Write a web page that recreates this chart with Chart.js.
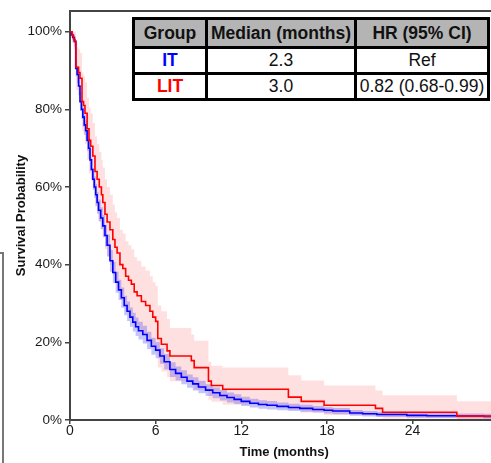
<!DOCTYPE html>
<html>
<head>
<meta charset="utf-8">
<script src="https://cdn.jsdelivr.net/npm/chart.js@4/dist/chart.umd.min.js"></script>
<style>
  html, body { margin: 0; padding: 0; background: #fff; overflow: hidden; width: 491px; height: 463px; }
  #wrap { position: relative; width: 491px; height: 463px; overflow: hidden; }
  canvas { position: absolute; left: 0; top: 0; }
  #tbl { position: absolute; left: 132px; top: 17px; background: #000; padding: 3px;
         display: grid; grid-template-columns: 70px 146px 130px; grid-template-rows: 26px 23px 23px; gap: 3px;
         font-family: "Liberation Sans", Arial, sans-serif; font-size: 17.5px; color: #111; }
  #tbl div { background: #fff; display: flex; align-items: center; justify-content: center; white-space: nowrap; }
  #tbl div.h { background: #b4b4b4; font-weight: bold; }
  #tbl div.g { font-weight: bold; }
  #bracket { position: absolute; left: 2px; top: 252px; width: 1.5px; height: 211px; background: #777; }
  #bracketTop { position: absolute; left: 0px; top: 252px; width: 3px; height: 1.5px; background: #777; }
</style>
</head>
<body>
<div id="wrap">
  <canvas id="c" width="505" height="463"></canvas>
  <div id="tbl"></div>
  <div id="bracket"></div><div id="bracketTop"></div>
</div>
<script>
// ---------- DATA ----------
const xTicks = [0, 6, 12, 18, 24, 30];
const yTicks = [0, 20, 40, 60, 80, 100];

// IT (blue) Kaplan-Meier estimate, months / survival %
const itTime  = [0,0.1,0.2,0.3,0.4,0.5,0.6,0.7,0.8,0.9,1.0,1.1,1.2,1.3,1.4,1.5,1.6,1.7,1.8,1.9,2.0,2.15,2.3,2.45,2.6,2.8,3.0,3.2,3.4,3.6,3.8,4.0,4.2,4.4,4.6,4.8,5.1,5.4,5.7,6.0,6.3,6.6,7.0,7.4,7.8,8.2,8.6,9.0,9.5,10,10.5,11,11.5,12,12.6,13.2,13.8,14.5,15.3,16.1,17,17.8,18.4,19.6,20.5,21.5,23.6,25,27.1,29,30];
const itSurv  = [100,99.2,98.5,97.5,90.5,89,86,82,80,78,76,74.5,72,70,67,64.5,62,60,58,56,54,52,50,47.5,45,41,38,35.5,33.5,31.5,29.5,28,26.5,25.2,24,23,22,20.5,19,18,16.5,15,13,12,11,10,9.3,8.5,7.7,7,6.3,5.8,5.3,4.8,4.3,4.0,3.8,3.5,3.2,3.0,2.7,2.5,2.3,1.8,1.6,1.4,1.2,1.1,1.0,0.9,0.9];
const itUpper = [100,100,99.5,98.8,92.5,91.2,88.3,84.4,82.5,80.5,78.6,77.1,74.7,72.7,69.8,67.3,64.8,62.8,60.8,58.8,56.8,54.8,52.8,50.3,47.8,43.8,40.7,38.2,36.1,34.1,32,30.5,29,27.6,26.4,25.3,24.3,22.7,21.2,20.1,18.5,17,14.9,13.8,12.8,11.7,11,10.1,9.2,8.4,7.7,7.1,6.6,6,5.5,5.1,4.9,4.5,4.2,3.9,3.6,3.3,3.1,2.6,2.3,2.1,1.9,1.8,1.7,1.6,1.6];
const itLower = [100,98.4,97.5,96.2,88.5,86.8,83.7,79.6,77.5,75.5,73.4,71.9,69.3,67.3,64.2,61.7,59.2,57.2,55.2,53.2,51.2,49.2,47.2,44.7,42.2,38.2,35.3,32.8,30.9,28.9,27,25.5,24,22.8,21.6,20.7,19.7,18.3,16.8,15.9,14.5,13,11.1,10.2,9.2,8.3,7.6,6.9,6.2,5.6,5.0,4.5,4.1,3.6,3.2,2.9,2.7,2.5,2.3,2.1,1.9,1.7,1.5,1.1,0.9,0.8,0.6,0.5,0.4,0.3,0.3];

// LIT (red) Kaplan-Meier estimate
const litTime  = [0,0.15,0.25,0.35,0.42,0.6,0.7,0.84,0.95,1.05,1.2,1.33,1.45,1.6,1.75,1.9,2.05,2.2,2.3,2.45,2.6,2.8,3.0,3.15,3.3,3.5,3.7,3.9,4.1,4.3,4.5,4.7,5.0,5.3,5.6,5.8,6.0,6.15,6.4,6.8,7.0,8.5,8.7,9.7,9.9,10.7,15.3,16.2,17.8,21.4,21.9,27.1,30];
const litSurv  = [100,99,98,97.5,90.8,89.5,88,82,81,79,75,72,70.5,68,64,62,60,58,56,53,51,49,46.5,44.5,43,40,39,37,36,35,33,32,30.5,29.5,28,26.5,25.4,21,19.5,17.8,16.5,15.3,13.5,10,8.9,7.9,5.9,4.8,3.8,3.0,2.0,1.0,1.0];
const litUpper = [100,100,100,100,96,95.5,94.5,89.5,88.5,87,83,80.5,79,76.5,73,71,69,67,65,62,60,58,55.5,53.5,52,49,48,46,45,44,42,41,39.5,38.5,37,35.5,34.5,29.5,28,26,23.7,22,20.4,15,14,13.5,11.5,10.2,8.9,7.6,6.4,4.8,4.8];
const litLower = [100,97,95.5,95,85,83.5,81.5,74.5,73.5,71,67,63.5,62,59.5,55,53,51,49,47,44,42,40,37.5,35.5,34,31,30,28,27,26,24.5,23.5,22,21,19.5,18.5,17.5,13.5,12.5,11,10,9.2,7.8,5.2,4.7,3.9,2.6,1.9,1.3,0.8,0.4,0.1,0.1];

// Summary table
const groups  = ["IT", "LIT"];
const groupColors = ["#0000ff", "#ff0000"];
const medians = ["2.3", "3.0"];
const hrs     = ["Ref", "0.82 (0.68-0.99)"];
const headers = ["Group", "Median (months)", "HR (95% CI)"];

// ---------- TABLE ----------
const tbl = document.getElementById('tbl');
headers.forEach(h => { const d = document.createElement('div'); d.className = 'h'; d.textContent = h; tbl.appendChild(d); });
groups.forEach((g, i) => {
  const a = document.createElement('div'); a.className = 'g'; a.style.color = groupColors[i]; a.textContent = g; tbl.appendChild(a);
  const b = document.createElement('div'); b.textContent = medians[i]; tbl.appendChild(b);
  const c = document.createElement('div'); c.textContent = hrs[i]; tbl.appendChild(c);
});

// ---------- CHART ----------
const pts = (t, v) => t.map((x, i) => ({ x: x, y: v[i] }));
const FONT = '"Liberation Sans", Arial, sans-serif';
const AXIS = '#444';

const frame = {
  id: 'frame',
  afterDraw(chart) {
    const { ctx, chartArea: { left, right, top } } = chart;
    ctx.save();
    ctx.strokeStyle = AXIS; ctx.lineWidth = 2;
    ctx.beginPath(); ctx.moveTo(left - 1, top); ctx.lineTo(right + 20, top); ctx.stroke();
    ctx.restore();
  }
};

const base = { pointRadius: 0, pointHoverRadius: 0, stepped: 'before', tension: 0 };

new Chart(document.getElementById('c'), {
  type: 'line',
  data: {
    datasets: [
      Object.assign({ label: 'LIT', data: pts(litTime, litSurv), borderColor: '#ff0000', borderWidth: 1.6, fill: false }, base),
      Object.assign({ label: 'IT', data: pts(itTime, itSurv), borderColor: '#0000ff', borderWidth: 1.6, fill: false }, base),
      Object.assign({ label: 'IT upper', data: pts(itTime, itUpper), borderWidth: 0, borderColor: 'rgba(0,0,0,0)', backgroundColor: 'rgba(40,40,240,0.27)', fill: '+1' }, base),
      Object.assign({ label: 'IT lower', data: pts(itTime, itLower), borderWidth: 0, borderColor: 'rgba(0,0,0,0)', fill: false }, base),
      Object.assign({ label: 'LIT upper', data: pts(litTime, litUpper), borderWidth: 0, borderColor: 'rgba(0,0,0,0)', backgroundColor: 'rgba(255,0,0,0.12)', fill: '+1' }, base),
      Object.assign({ label: 'LIT lower', data: pts(litTime, litLower), borderWidth: 0, borderColor: 'rgba(0,0,0,0)', fill: false }, base)
    ]
  },
  options: {
    responsive: false,
    animation: false,
    devicePixelRatio: 1,
    layout: { padding: { top: 6, left: 0, right: 0, bottom: 0 } },
    plugins: { legend: { display: false }, tooltip: { enabled: false }, filler: { propagate: false } },
    scales: {
      x: {
        type: 'linear', min: 0, max: 30,
        afterBuildTicks: (s) => { s.ticks = xTicks.map(v => ({ value: v })); },
        afterFit: (s) => { s.height = 43; },
        ticks: { font: { family: FONT, size: 14 }, color: '#1a1a1a', padding: -1, maxRotation: 0 },
        grid: { drawOnChartArea: false, drawTicks: true, tickLength: 4, color: AXIS, lineWidth: 1.5 },
        border: { display: true, color: AXIS, width: 2 },
        title: { display: true, text: 'Time (months)', font: { family: FONT, size: 13, weight: 'bold' }, color: '#111', padding: { top: 0, bottom: 3 } }
      },
      y: {
        type: 'linear', min: 0, max: 105.3,
        afterBuildTicks: (s) => { s.ticks = yTicks.map(v => ({ value: v })); },
        afterFit: (s) => { s.width = 70; },
        ticks: { font: { family: FONT, size: 13.5 }, color: '#1a1a1a', padding: 3, callback: (v) => v + '%' },
        grid: { drawOnChartArea: false, drawTicks: true, tickLength: 5, color: AXIS, lineWidth: 1.5 },
        border: { display: true, color: AXIS, width: 2 },
        title: { display: true, text: 'Survival Probability', font: { family: FONT, size: 13, weight: 'bold' }, color: '#111', padding: { top: 14, bottom: 0 } }
      }
    }
  },
  plugins: [frame]
});
</script>
</body>
</html>
